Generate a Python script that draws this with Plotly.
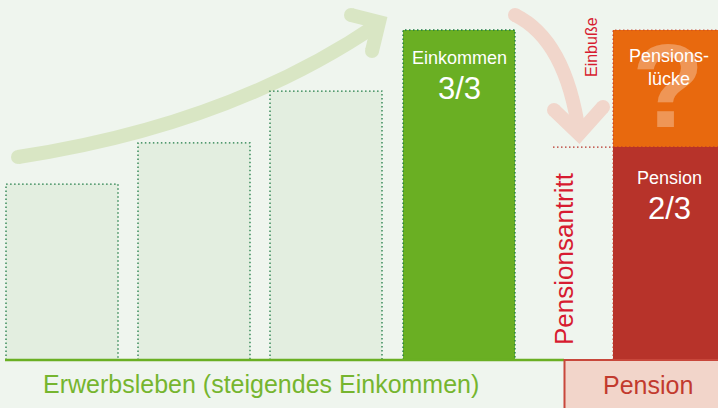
import plotly.graph_objects as go

# ---------------- data ----------------
income_stages = ["Stufe 1", "Stufe 2", "Stufe 3", "Einkommen"]
income_values = [53.3, 65.8, 81.5, 100.0]      # % of final income
pension_value = 64.5                            # Pension 2/3
gap_value = 100.0 - pension_value               # Pensionslücke
income_label = ["Einkommen", "3/3"]
pension_label = ["Pension", "2/3"]
gap_label = "Pensions-<br>lücke"
bottom_labels = ["Erwerbsleben (steigendes Einkommen)", "Pension"]

# ---------------- layout constants ----------------
W, H = 718, 408
BASE_PX, TOP_PX = 360, 30
unit = (BASE_PX - TOP_PX) / 100.0
y_min, y_max = -(H - BASE_PX) / unit, BASE_PX / unit
income_x = [62, 194, 326, 459]
pension_x = 669
bar_w = 112

BG = "#EFF5EE"
LIGHT = "#E3EEE0"
GREEN = "#6AAF23"
DOT_GREEN = "#1E7B45"
ORANGE = "#E8690E"
RED = "#B7332A"
RED_TXT = "#D71B30"
PINK = "#F1D6CB"
ARROW_G = "#D9E6C4"
FONT = "Liberation Sans, Arial, sans-serif"


def py(p):
    return 1 - p / H


def pt(x, y):
    return f"{x},{py(y):.5f}"


fig = go.Figure()

# light earlier-income bars
fig.add_trace(go.Bar(x=income_x[:3], y=income_values[:3], width=bar_w,
                     marker=dict(color=LIGHT, line=dict(width=0)),
                     hoverinfo="skip", showlegend=False))
# final income bar
fig.add_trace(go.Bar(x=income_x[3:], y=income_values[3:], width=bar_w,
                     marker=dict(color=GREEN, line=dict(width=0)),
                     hoverinfo="skip", showlegend=False))
# pension + gap
fig.add_trace(go.Bar(x=[pension_x], y=[pension_value], base=[0], width=bar_w,
                     marker=dict(color=RED, line=dict(width=0)),
                     hoverinfo="skip", showlegend=False))
fig.add_trace(go.Bar(x=[pension_x], y=[gap_value], base=[pension_value], width=bar_w,
                     marker=dict(color=ORANGE, line=dict(width=0)),
                     hoverinfo="skip", showlegend=False))

# dotted outlines of income bars
for cx, h in zip(income_x, income_values):
    x0, x1 = cx - bar_w / 2, cx + bar_w / 2
    fig.add_trace(go.Scatter(x=[x0, x0, x1, x1], y=[0, h, h, 0], mode="lines",
                             line=dict(color=DOT_GREEN, width=1.3, dash="1.5px,2.5px"),
                             hoverinfo="skip", showlegend=False))

# dotted outline of pension column + level line
px0 = pension_x - bar_w / 2
fig.add_trace(go.Scatter(x=[px0, px0, px0 + bar_w], y=[0, pension_value + gap_value, pension_value + gap_value],
                         mode="lines", line=dict(color="#C0392B", width=1.2, dash="1.5px,2.5px"),
                         opacity=0.8, hoverinfo="skip", showlegend=False))
fig.add_trace(go.Scatter(x=[553, px0 + bar_w], y=[pension_value, pension_value],
                         mode="lines", line=dict(color="#B7332A", width=1.3, dash="1.5px,2.5px"),
                         hoverinfo="skip", showlegend=False))

shapes = []
# baseline
shapes.append(dict(type="line", xref="x", yref="y", x0=5, x1=564, y0=0, y1=0,
                   line=dict(color=GREEN, width=2.5)))
# bottom pension box
shapes.append(dict(type="rect", xref="x", yref="y", x0=564.5, x1=730, y0=-30, y1=0,
                   fillcolor="#F2D5CA", line=dict(color="#C8473B", width=2)))

# green rising arrow
shapes.append(dict(type="path", xref="x", yref="paper", layer="below",
                   path=f"M {pt(18,157)} Q {pt(230,125)} {pt(378,24)}",
                   line=dict(color=ARROW_G, width=14)))
shapes.append(dict(type="path", xref="x", yref="paper", layer="below",
                   path=f"M {pt(351,15)} L {pt(379,22)} L {pt(372,51)}",
                   line=dict(color=ARROW_G, width=14)))
# pink falling arrow
shapes.append(dict(type="path", xref="x", yref="paper", layer="below",
                   path=f"M {pt(515,15)} Q {pt(566,40)} {pt(579,133)}",
                   line=dict(color=PINK, width=14)))
shapes.append(dict(type="path", xref="x", yref="paper", layer="below",
                   path=f"M {pt(554,110)} L {pt(579,134)} L {pt(603,107)}",
                   line=dict(color=PINK, width=14)))
# round caps
for (cx, cy, col) in [(18, 157, ARROW_G), (351, 15, ARROW_G), (372, 51, ARROW_G),
                      (515, 15, PINK), (554, 110, PINK), (603, 107, PINK)]:
    r = 7
    shapes.append(dict(type="circle", xref="x", yref="paper", layer="below",
                       x0=cx - r, x1=cx + r, y0=py(cy + r), y1=py(cy - r),
                       fillcolor=col, line=dict(width=0)))

annotations = []


def ann(text, x, y, size, color, angle=0, bold=False):
    annotations.append(dict(text=f"<b>{text}</b>" if bold else text, x=x, y=py(y),
                            xref="x", yref="paper", showarrow=False,
                            textangle=angle, xanchor="center", yanchor="middle",
                            font=dict(family=FONT, size=size, color=color)))


ann("?", 668, 86, 118, "rgba(255,255,255,0.3)", bold=True)
ann(income_label[0], income_x[3], 58, 18, "white")
ann(income_label[1], income_x[3], 88, 31, "white")
ann(gap_label, 669, 68, 18, "white")
ann(pension_label[0], 669, 178, 18, "white")
ann(pension_label[1], 669, 208, 31, "white")
ann("Pensionsantritt", 564, 259, 26, RED_TXT, angle=-90)
ann("Einbuße", 591, 47, 16, RED_TXT, angle=-90)
ann(bottom_labels[0], 261, 384, 25, "#76B52F")
ann(bottom_labels[1], 648, 385, 25, "#C23A2E")

fig.update_layout(
    width=W, height=H, margin=dict(l=0, r=0, t=0, b=0),
    paper_bgcolor=BG, plot_bgcolor=BG, barmode="overlay", bargap=0,
    xaxis=dict(range=[0, W], visible=False, fixedrange=True),
    yaxis=dict(range=[y_min, y_max], visible=False, fixedrange=True),
    shapes=shapes, annotations=annotations, showlegend=False,
)

fig.write_html("out.html", config={"displayModeBar": False},
               post_script="document.body.style.margin='0';document.body.style.background='" + BG + "';")
